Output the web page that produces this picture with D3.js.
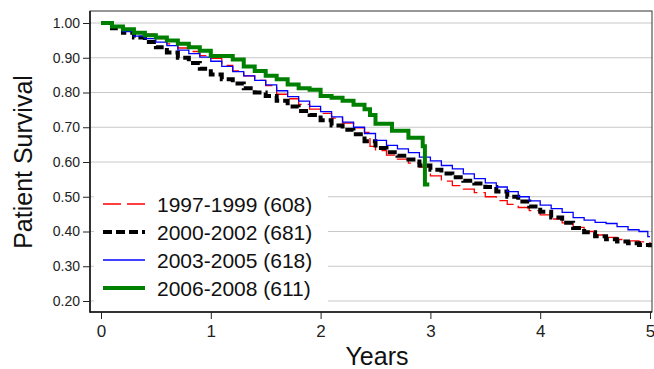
<!DOCTYPE html>
<html><head><meta charset="utf-8">
<script src="https://cdn.jsdelivr.net/npm/d3@7"></script>
<style>body{margin:0;background:#fff}svg{display:block;font-family:Arial,"Liberation Sans",sans-serif}</style>
</head><body><svg id="c" width="654" height="369"></svg>
<script>
const yTicks = [0.2,0.3,0.4,0.5,0.6,0.7,0.8,0.9,1.0];
const xTicks = [0,1,2,3,4,5];
const seriesNames = ["1997-1999 (608)","2000-2002 (681)","2003-2005 (618)","2006-2008 (611)"];

const t9799 = [0,0.1,0.2,0.3,0.4,0.5,0.6,0.7,0.8,0.9,1.0,1.1,1.2,1.3,1.4,1.5,1.6,1.7,1.8,1.9,2.0,2.1,2.2,2.3,2.4,2.45,2.5,2.6,2.7,2.8,2.9,3.0,3.1,3.2,3.3,3.4,3.5,3.6,3.7,3.8,3.9,4.0,4.1,4.2,4.3,4.4,4.5,4.6,4.7,4.8,4.9,5.0];
const s9799 = [1.0,0.99,0.98,0.975,0.968,0.955,0.94,0.928,0.918,0.906,0.898,0.878,0.862,0.848,0.835,0.82,0.795,0.782,0.766,0.752,0.74,0.726,0.712,0.698,0.685,0.645,0.633,0.62,0.608,0.597,0.585,0.56,0.545,0.532,0.522,0.512,0.5,0.489,0.478,0.469,0.46,0.448,0.436,0.425,0.412,0.4,0.39,0.383,0.377,0.373,0.37,0.367];

const t0002 = [0,0.1,0.2,0.3,0.4,0.5,0.6,0.7,0.8,0.9,1.0,1.1,1.2,1.3,1.4,1.5,1.6,1.7,1.8,1.9,2.0,2.1,2.2,2.3,2.4,2.5,2.6,2.7,2.8,2.9,3.0,3.1,3.2,3.3,3.4,3.5,3.6,3.7,3.8,3.9,4.0,4.1,4.2,4.3,4.4,4.5,4.6,4.7,4.8,4.9,5.0];
const s0002 = [1.0,0.985,0.972,0.958,0.945,0.93,0.915,0.9,0.885,0.868,0.852,0.838,0.826,0.812,0.8,0.79,0.776,0.76,0.747,0.735,0.72,0.705,0.693,0.68,0.66,0.64,0.628,0.618,0.607,0.59,0.578,0.567,0.556,0.546,0.538,0.528,0.515,0.5,0.486,0.472,0.457,0.44,0.425,0.41,0.398,0.386,0.378,0.371,0.366,0.361,0.355];

const t0305 = [0,0.1,0.2,0.3,0.4,0.5,0.6,0.7,0.8,0.9,1.0,1.1,1.2,1.3,1.4,1.5,1.6,1.7,1.8,1.9,2.0,2.1,2.2,2.3,2.4,2.5,2.6,2.7,2.8,2.9,3.0,3.1,3.2,3.3,3.4,3.5,3.6,3.7,3.8,3.9,4.0,4.1,4.2,4.3,4.4,4.5,4.6,4.7,4.8,4.9,4.98,5.0];
const s0305 = [1.0,0.988,0.975,0.962,0.955,0.945,0.935,0.922,0.912,0.902,0.89,0.875,0.86,0.848,0.835,0.822,0.805,0.788,0.775,0.76,0.745,0.73,0.715,0.7,0.682,0.662,0.648,0.638,0.627,0.614,0.603,0.59,0.58,0.566,0.552,0.54,0.528,0.515,0.5,0.488,0.476,0.466,0.455,0.44,0.433,0.426,0.423,0.414,0.405,0.4,0.385,0.385];

const t0608 = [0,0.1,0.2,0.3,0.4,0.5,0.6,0.7,0.8,0.9,1.0,1.2,1.3,1.4,1.5,1.6,1.7,1.8,1.9,2.0,2.1,2.2,2.3,2.4,2.45,2.5,2.65,2.8,2.93,2.95,2.99];
const s0608 = [1.0,0.99,0.982,0.972,0.965,0.958,0.95,0.94,0.93,0.92,0.905,0.895,0.875,0.862,0.848,0.838,0.823,0.812,0.808,0.79,0.785,0.776,0.765,0.752,0.735,0.71,0.69,0.67,0.645,0.535,0.535];

const L = 90, R = 652, T = 11, B = 312;
const x = d3.scaleLinear().domain([0,5]).range([101,650]);
const y = d3.scaleLinear().domain([0.2,1.0]).range([301,23]);
const svg = d3.select("#c");

svg.append("g").selectAll("line").data(yTicks).join("line")
  .attr("x1",L).attr("x2",R).attr("y1",d=>y(d)).attr("y2",d=>y(d))
  .attr("stroke","#c8c8c8").attr("stroke-width",1);

const series = [
  {t:t9799,s:s9799,color:"#ff0000",w:1.3,dash:"18,6"},
  {t:t0002,s:s0002,color:"#000000",w:4,dash:"9,4"},
  {t:t0305,s:s0305,color:"#0000ff",w:1.3,dash:null},
  {t:t0608,s:s0608,color:"#008000",w:4,dash:null}
];
const line = d3.line().x(d=>x(d[0])).y(d=>y(d[1])).curve(d3.curveStepAfter);
series.forEach(sr=>{
  const pts = sr.t.map((t,i)=>[t,sr.s[i]]);
  svg.append("path").attr("d",line(pts)).attr("fill","none")
    .attr("stroke",sr.color).attr("stroke-width",sr.w)
    .attr("stroke-dasharray",sr.dash).attr("stroke-linejoin","miter");
});

const lg = svg.append("g");
lg.append("rect").attr("x",94).attr("y",186).attr("width",234).attr("height",124).attr("fill","#fff");
const rowY = [204,232,260,288];
series.forEach((sr,i)=>{
  lg.append("line").attr("x1",103).attr("x2",145).attr("y1",rowY[i]).attr("y2",rowY[i])
    .attr("stroke",sr.color).attr("stroke-width",sr.w).attr("stroke-dasharray",sr.dash);
  lg.append("text").attr("x",157).attr("y",rowY[i]).attr("dy","0.36em")
    .attr("font-size",21).attr("fill","#111").text(seriesNames[i]);
});

svg.append("rect").attr("x",L).attr("y",T).attr("width",R-L).attr("height",B-T)
  .attr("fill","none").attr("stroke","#333").attr("stroke-width",1);
svg.append("line").attr("x1",L).attr("x2",L).attr("y1",T).attr("y2",B+0.75).attr("stroke","#111").attr("stroke-width",1.5);
svg.append("line").attr("x1",L).attr("x2",R).attr("y1",B).attr("y2",B).attr("stroke","#111").attr("stroke-width",1.5);

const ya = svg.append("g").attr("transform",`translate(${L},0)`)
  .call(d3.axisLeft(y).tickValues(yTicks).tickFormat(d3.format(".2f")).tickSize(7).tickPadding(3));
ya.select(".domain").remove();
ya.selectAll("line").attr("stroke","#222");
ya.selectAll("text").attr("font-size",14).attr("fill","#222").attr("font-family","Arial,'Liberation Sans',sans-serif");

const xa = svg.append("g").attr("transform",`translate(0,${B})`)
  .call(d3.axisBottom(x).tickValues(xTicks).tickFormat(d3.format("d")).tickSize(7).tickPadding(6));
xa.select(".domain").remove();
xa.selectAll("line").attr("stroke","#222");
xa.selectAll("text").attr("font-size",17).attr("fill","#222").attr("font-family","Arial,'Liberation Sans',sans-serif");

svg.append("text").attr("x",377).attr("y",365).attr("text-anchor","middle")
  .attr("font-size",25).attr("fill","#111").text("Years");
svg.append("text").attr("transform","translate(32,162) rotate(-90)").attr("text-anchor","middle")
  .attr("font-size",25).attr("fill","#111").text("Patient Survival");
</script></body></html>
